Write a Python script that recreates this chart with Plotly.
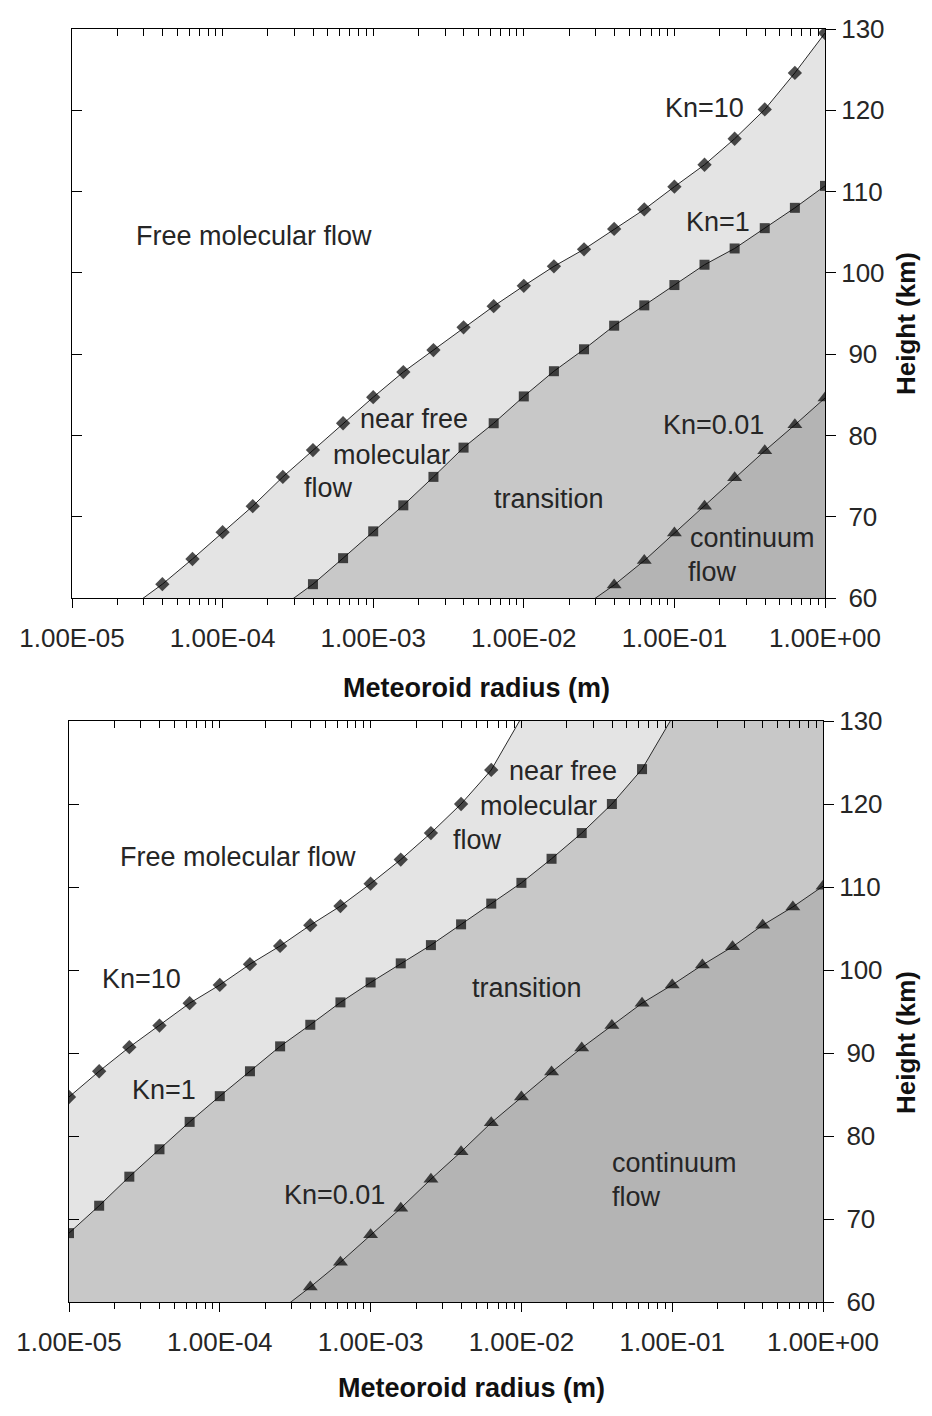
import plotly.graph_objects as go

# ---------------- data ----------------
# log10 of meteoroid radius (m) and height (km)
top_kn10_exp = [-4.6, -4.4, -4.2, -4.0, -3.8, -3.6, -3.4, -3.2, -3.0, -2.8, -2.6, -2.4,
                -2.2, -2.0, -1.8, -1.6, -1.4, -1.2, -1.0, -0.8, -0.6, -0.4, -0.2, 0.0]
top_kn10_h = [59.0, 61.7, 64.8, 68.1, 71.3, 74.9, 78.2, 81.5, 84.7, 87.8, 90.5, 93.3,
              95.9, 98.4, 100.8, 102.9, 105.4, 107.8, 110.6, 113.3, 116.5, 120.1, 124.6, 129.5]

top_kn1_exp = [-3.6, -3.4, -3.2, -3.0, -2.8, -2.6, -2.4, -2.2, -2.0, -1.8, -1.6, -1.4,
               -1.2, -1.0, -0.8, -0.6, -0.4, -0.2, 0.0]
top_kn1_h = [59.0, 61.7, 64.9, 68.2, 71.4, 74.9, 78.5, 81.5, 84.8, 87.9, 90.6, 93.5,
             96.0, 98.5, 101.0, 103.0, 105.5, 108.0, 110.7]

top_kn001_exp = [-1.6, -1.4, -1.2, -1.0, -0.8, -0.6, -0.4, -0.2, 0.0]
top_kn001_h = [59.0, 61.6, 64.6, 68.0, 71.3, 74.8, 78.1, 81.3, 84.6]

bot_kn10_exp = [-5.0, -4.8, -4.6, -4.4, -4.2, -4.0, -3.8, -3.6, -3.4, -3.2, -3.0, -2.8,
                -2.6, -2.4, -2.2, -2.0]
bot_kn10_h = [84.7, 87.8, 90.7, 93.3, 96.0, 98.2, 100.7, 102.9, 105.4, 107.7, 110.4, 113.3,
              116.5, 120.0, 124.1, 130.4]

bot_kn1_exp = [-5.0, -4.8, -4.6, -4.4, -4.2, -4.0, -3.8, -3.6, -3.4, -3.2, -3.0, -2.8,
               -2.6, -2.4, -2.2, -2.0, -1.8, -1.6, -1.4, -1.2, -1.0]
bot_kn1_h = [68.3, 71.6, 75.1, 78.4, 81.7, 84.8, 87.8, 90.8, 93.4, 96.1, 98.5, 100.8,
             103.0, 105.5, 108.0, 110.5, 113.4, 116.5, 120.0, 124.2, 130.4]

bot_kn001_exp = [-3.6, -3.4, -3.2, -3.0, -2.8, -2.6, -2.4, -2.2, -2.0, -1.8, -1.6, -1.4,
                 -1.2, -1.0, -0.8, -0.6, -0.4, -0.2, 0.0]
bot_kn001_h = [59.0, 61.8, 64.8, 68.1, 71.3, 74.8, 78.1, 81.6, 84.7, 87.7, 90.6, 93.3,
               96.0, 98.2, 100.6, 102.8, 105.4, 107.6, 110.1]

x_tick_vals = [1e-5, 1e-4, 1e-3, 1e-2, 1e-1, 1e0]
x_tick_text = ["1.00E-05", "1.00E-04", "1.00E-03", "1.00E-02", "1.00E-01", "1.00E+00"]
y_tick_vals = [60, 70, 80, 90, 100, 110, 120, 130]

# ---------------- styling ----------------
FONT = "Liberation Sans"
TXT = "#262626"
C_LIGHT = "#e4e4e4"
C_MID = "#c8c8c8"
C_DARK = "#b4b4b4"
Y_MIN, Y_MAX = 60, 130

minor_vals = [m * 10.0 ** k for k in range(-5, 0) for m in range(2, 10)]
all_x_ticks = sorted(minor_vals + x_tick_vals)

fig = go.Figure()


def add_region(exps, hs, color, xa, ya):
    xs = [10 ** e for e in exps]
    fig.add_trace(go.Scatter(
        x=xs + [1.0, 1.0, xs[0]], y=hs + [hs[-1], 50, 50],
        fill="toself", fillcolor=color, mode="lines", line=dict(width=0),
        hoverinfo="skip", showlegend=False, xaxis=xa, yaxis=ya))


def add_line(exps, hs, symbol, msize, xa, ya):
    xs = [10 ** e for e in exps]
    sizes = [msize if Y_MIN <= h <= Y_MAX else 0 for h in hs]
    fig.add_trace(go.Scatter(
        x=xs, y=hs, mode="lines+markers",
        line=dict(color="#2a2a2a", width=1),
        marker=dict(symbol=symbol, size=sizes, color="black", line=dict(width=0)),
        showlegend=False, xaxis=xa, yaxis=ya))


# top panel
add_region(top_kn10_exp, top_kn10_h, C_LIGHT, "x", "y")
add_region(top_kn1_exp, top_kn1_h, C_MID, "x", "y")
add_region(top_kn001_exp, top_kn001_h, C_DARK, "x", "y")
add_line(top_kn10_exp, top_kn10_h, "diamond", 11, "x", "y")
add_line(top_kn1_exp, top_kn1_h, "square", 10, "x", "y")
add_line(top_kn001_exp, top_kn001_h, "triangle-up", 13, "x", "y")

# bottom panel
add_region(bot_kn10_exp, bot_kn10_h, C_LIGHT, "x2", "y2")
add_region(bot_kn1_exp, bot_kn1_h, C_MID, "x2", "y2")
add_region(bot_kn001_exp, bot_kn001_h, C_DARK, "x2", "y2")
add_line(bot_kn10_exp, bot_kn10_h, "diamond", 11, "x2", "y2")
add_line(bot_kn1_exp, bot_kn1_h, "square", 10, "x2", "y2")
add_line(bot_kn001_exp, bot_kn001_h, "triangle-up", 13, "x2", "y2")

# invisible anchors so the overlay (mirror-tick) axes are drawn
for xa, ya in [("x3", "y3"), ("x4", "y4")]:
    fig.add_trace(go.Scatter(x=[1e-3], y=[90], mode="markers",
                             marker=dict(opacity=0, size=1), hoverinfo="skip",
                             showlegend=False, xaxis=xa, yaxis=ya))

# page body has an 8px margin; figure is sized to fit the 932x1416 window
OFF = 8
W, H = 932 - 2 * OFF, 1416 - 2 * OFF


def px(x):
    return (x - OFF) / W


def py(y):
    return 1 - (y - OFF) / H


top_dom_x = [px(72), px(825)]
top_dom_y = [py(598), py(29)]
bot_dom_x = [px(69), px(823)]
bot_dom_y = [py(1302), py(721)]

tickfont = dict(family=FONT, size=26, color=TXT)


def main_x(dom, anchor):
    return dict(domain=dom, anchor=anchor, type="log", range=[-5, 0],
                tickvals=x_tick_vals, ticktext=x_tick_text, ticks="outside",
                ticklen=9, tickwidth=1, tickcolor="black",
                minor=dict(tickvals=minor_vals, ticks="outside", ticklen=6,
                           tickwidth=1, tickcolor="black", showgrid=False),
                showline=True, linecolor="black", linewidth=1, mirror=True,
                showgrid=False, zeroline=False, tickfont=tickfont,
                ticklabelstandoff=8, automargin=False, fixedrange=True)


def over_x(dom, anchor, over):
    return dict(domain=dom, anchor=anchor, overlaying=over, side="top", type="log",
                range=[-5, 0], tickvals=all_x_ticks, ticks="inside", ticklen=7,
                tickwidth=1, tickcolor="black", showticklabels=False,
                showline=False, showgrid=False, zeroline=False, automargin=False)


y_text = [("\u2008" + str(v)) if v < 100 else str(v) for v in y_tick_vals]


def main_y(dom, anchor):
    return dict(domain=dom, anchor=anchor, side="right", range=[Y_MIN, Y_MAX],
                tickvals=y_tick_vals, ticktext=y_text, ticks="outside", ticklen=10,
                tickwidth=1, tickcolor="black", showline=True, linecolor="black",
                linewidth=1, mirror=True, showgrid=False, zeroline=False,
                tickfont=tickfont, automargin=False)


def over_y(dom, anchor, over):
    return dict(domain=dom, anchor=anchor, overlaying=over, side="left",
                range=[Y_MIN, Y_MAX], tickvals=y_tick_vals, ticks="inside",
                ticklen=10, tickwidth=1, tickcolor="black", showticklabels=False,
                showline=False, showgrid=False, zeroline=False, automargin=False)


fig.update_layout(
    template="none",
    width=W, height=H, margin=dict(l=0, r=0, t=0, b=0, pad=0, autoexpand=False),
    paper_bgcolor="white", plot_bgcolor="rgba(0,0,0,0)", showlegend=False,
    xaxis=main_x(top_dom_x, "y"), yaxis=main_y(top_dom_y, "x"),
    xaxis2=main_x(bot_dom_x, "y2"), yaxis2=main_y(bot_dom_y, "x2"),
    xaxis3=over_x(top_dom_x, "y", "x"), yaxis3=over_y(top_dom_y, "x", "y"),
    xaxis4=over_x(bot_dom_x, "y2", "x2"), yaxis4=over_y(bot_dom_y, "x2", "y2"),
)

# in-plot labels: (text, panel, log10 x, height, xanchor)
labels = [
    ("Free molecular flow", 1, -3.79, 104.5, "center"),
    ("Kn=10", 1, -0.80, 120.3, "center"),
    ("Kn=1", 1, -0.71, 106.2, "center"),
    ("near free", 1, -3.10, 82.0, "left"),
    ("molecular", 1, -3.28, 77.6, "left"),
    ("flow", 1, -3.47, 73.5, "left"),
    ("transition", 1, -1.83, 72.2, "center"),
    ("Kn=0.01", 1, -0.74, 81.3, "center"),
    ("continuum", 1, -0.91, 67.4, "left"),
    ("flow", 1, -0.92, 63.2, "left"),
    ("Free molecular flow", 2, -4.675, 113.6, "left"),
    ("Kn=10", 2, -4.52, 98.9, "center"),
    ("near free", 2, -2.095, 124.0, "left"),
    ("molecular", 2, -2.29, 119.8, "left"),
    ("flow", 2, -2.47, 115.7, "left"),
    ("transition", 2, -1.96, 97.8, "center"),
    ("Kn=1", 2, -4.37, 85.5, "center"),
    ("Kn=0.01", 2, -3.24, 72.9, "center"),
    ("continuum", 2, -1.41, 76.7, "left"),
    ("flow", 2, -1.41, 72.65, "left"),
]
for text, panel, lx, hy, anc in labels:
    xr, yr = ("x", "y") if panel == 1 else ("x2", "y2")
    fig.add_annotation(text=text, x=lx, y=hy, xref=xr, yref=yr, xanchor=anc,
                       yanchor="middle", showarrow=False,
                       font=dict(family=FONT, size=27, color=TXT))

# axis titles
title_font = dict(family=FONT, size=27, color="#111111")
for xc, yc in [(476, 688), (472, 1388)]:
    fig.add_annotation(text="<b>Meteoroid radius (m)</b>", x=px(xc), y=py(yc),
                       xref="paper", yref="paper", showarrow=False,
                       xanchor="center", yanchor="middle", font=title_font)
for xc, yc in [(906, 324), (906, 1043)]:
    fig.add_annotation(text="<b>Height (km)</b>", x=px(xc), y=py(yc),
                       xref="paper", yref="paper", showarrow=False, textangle=-90,
                       xanchor="center", yanchor="middle",
                       font=dict(family=FONT, size=26, color="#111111"))

fig.write_html("out.html")
